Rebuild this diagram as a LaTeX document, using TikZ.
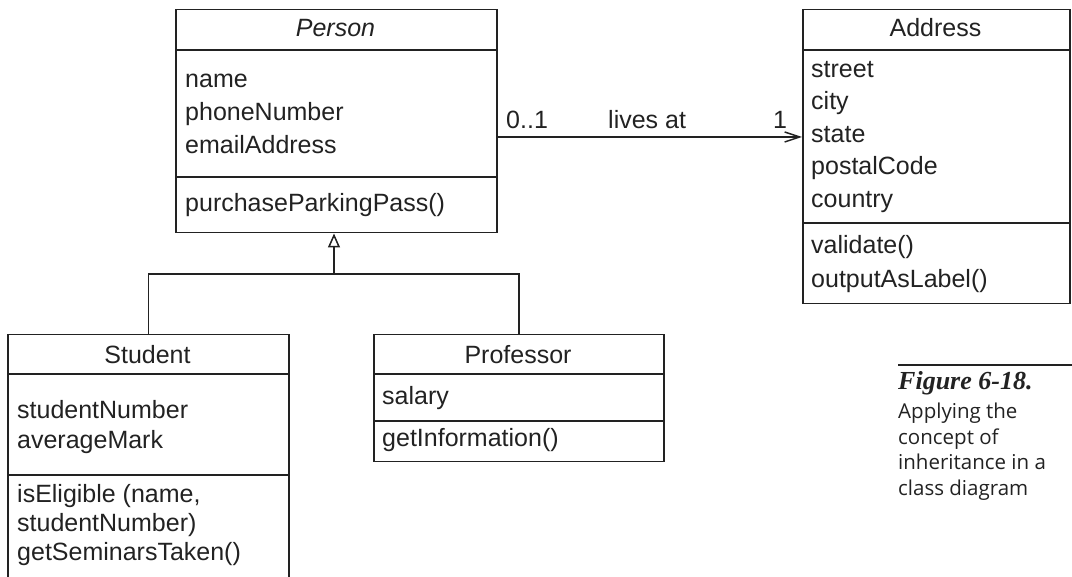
\documentclass[tikz,border=0pt]{standalone}
\usepackage{fontspec}
\setmainfont{Liberation Sans}
\newfontfamily\capsans{Open Sans}
\newfontfamily\figserif{Liberation Serif}
\usetikzlibrary{arrows.meta}
\definecolor{ink}{HTML}{222222}
\begin{document}
\begin{tikzpicture}[x=1pt,y=-1pt,
  classbox/.style={draw=ink, line width=1.5pt, inner sep=0pt, anchor=north west},
  sep/.style={draw=ink, line width=1.5pt},
  txt/.style={anchor=base west, inner sep=0pt, text=ink, font=\fontsize{25}{29}\selectfont},
  hdr/.style={txt, anchor=base},
  captxt/.style={anchor=base west, inner sep=0pt, text=ink, font=\capsans\fontsize{20.5}{24}\selectfont},
  conn/.style={draw=ink, line width=1.5pt},
]
\useasboundingbox (0,0) rectangle (1072,577);
\clip (0,0) rectangle (1072,577);

% ---------- Person ----------
\node[classbox, minimum width=321pt, minimum height=223pt] (person) at (175,9) {};
\draw[sep] (175,50) -- (496,50);
\draw[sep] (175,177) -- (496,177);
\node[hdr, font=\itshape\fontsize{25}{29}\selectfont] (pname) at (335.5,36.5) {Person};
\node[txt] (pa1) at (185,88) {name};
\node[txt] (pa2) at (185,121) {phoneNumber};
\node[txt] (pa3) at (185,154) {emailAddress};
\node[txt] (pm1) at (185,212) {purchaseParkingPass()};

% ---------- Address ----------
\node[classbox, minimum width=267pt, minimum height=294pt] (address) at (802,9) {};
\draw[sep] (802,50) -- (1069,50);
\draw[sep] (802,223) -- (1069,223);
\node[hdr] (aname) at (935.5,36.5) {Address};
\node[txt] (aa1) at (811,77.5) {street};
\node[txt] (aa2) at (811,110) {city};
\node[txt] (aa3) at (811,142.5) {state};
\node[txt] (aa4) at (811,175) {postalCode};
\node[txt] (aa5) at (811,207.5) {country};
\node[txt] (am1) at (811,254) {validate()};
\node[txt] (am2) at (811,287.5) {outputAsLabel()};

% ---------- Student ----------
\node[classbox, minimum width=281pt, minimum height=270pt] (student) at (7,334) {};
\draw[sep] (7,374) -- (288,374);
\draw[sep] (7,475) -- (288,475);
\node[hdr] (sname) at (147.5,363.5) {Student};
\node[txt] (sa1) at (17,419) {studentNumber};
\node[txt] (sa2) at (17,449) {averageMark};
\node[txt] (sm1) at (17,502) {isEligible (name,};
\node[txt] (sm2) at (17,531) {studentNumber)};
\node[txt] (sm3) at (17,560) {getSeminarsTaken()};

% ---------- Professor ----------
\node[classbox, minimum width=290pt, minimum height=127pt] (prof) at (373,334) {};
\draw[sep] (373,374) -- (663,374);
\draw[sep] (373,421) -- (663,421);
\node[hdr] (prname) at (518,363.5) {Professor};
\node[txt] (pra1) at (382,405) {salary};
\node[txt] (prm1) at (382,447) {getInformation()};

% ---------- Association ----------
\coordinate (asrc) at (496,137);
\draw[conn, -{Straight Barb[length=15pt,width=10pt,line width=1.5pt]}] (asrc) -- (address.west |- asrc);
\node[txt] (m1) at (506,128.5) {0..1};
\node[txt] (alab) at (608,128.5) {lives at};
\node[txt] (m2) at (773,128.5) {1};

% ---------- Generalization ----------
\coordinate (hub) at (334,274);
\draw[conn, -{Triangle[open,length=14pt,width=12pt,line width=1.5pt,fill=white]}] (hub) -- (hub |- person.south);
\draw[conn] (student.north) |- (hub) -| (prof.north);

% ---------- Caption ----------
\coordinate (rulel) at (898,365);
\coordinate (ruler) at (1072,365);
\draw[draw=ink, line width=1.5pt] (rulel) -- (ruler);
\node[anchor=base west, inner sep=0pt, text=ink, font=\figserif\bfseries\itshape\fontsize{26}{29}\selectfont] (fig) at (898,390) {Figure 6-18.};
\node[captxt] (c1) at (898,419) {Applying the};
\node[captxt] (c2) at (898,444.5) {concept of};
\node[captxt] (c3) at (898,470) {inheritance in a};
\node[captxt] (c4) at (898,495.5) {class diagram};
\end{tikzpicture}
\end{document}
